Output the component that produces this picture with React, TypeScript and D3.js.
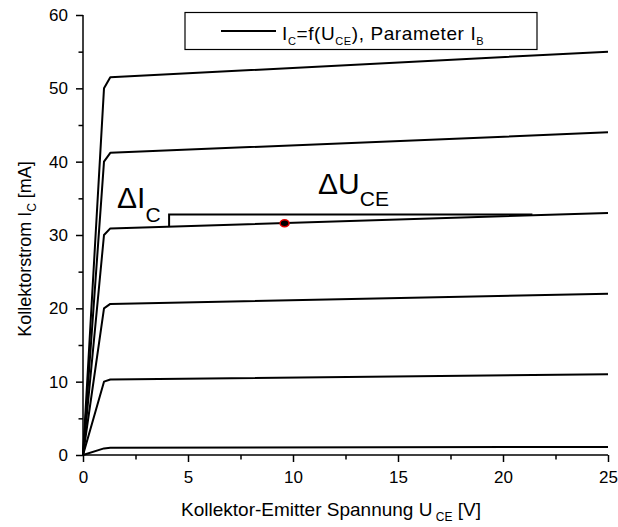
import React, { useEffect, useRef } from 'react';
import * as d3 from 'd3';

// U_CE sample points shared by all curves (V)
const uPoints = [0, 1.0, 1.3, 25];
// I_C values (mA) for each base current step
const icCurves = [
  [0, 0.9, 1.0, 1.1],
  [0, 10, 10.3, 11],
  [0, 20, 20.6, 22],
  [0, 30, 30.9, 33],
  [0, 40, 41.2, 44],
  [0, 50, 51.5, 55],
];
// operating point on the 30 mA curve
const workPoint = [9.6, 31.6];
// delta bracket: U start, U end, I level
const deltaU = [4.1, 21.4];
const deltaLevel = 32.8;

const xMajor = [0, 5, 10, 15, 20, 25];
const xMinor = [2.5, 7.5, 12.5, 17.5, 22.5];
const yMajor = [0, 10, 20, 30, 40, 50, 60];
const yMinor = [5, 15, 25, 35, 45, 55];

const FONT = '"Liberation Sans", Arial, sans-serif';

export default function App() {
  const svgRef = useRef<SVGSVGElement>(null);

  useEffect(() => {
    const svg = d3.select(svgRef.current);
    svg.selectAll('*').remove();

    const width = 618;
    const height = 527;
    const margin = { top: 15, right: 10, bottom: 72, left: 83 };
    const innerW = width - margin.left - margin.right;
    const innerH = height - margin.top - margin.bottom;

    const x = d3.scaleLinear().domain([0, 25]).range([0, innerW]);
    const y = d3.scaleLinear().domain([0, 60]).range([innerH, 0]);

    const g = svg.append('g').attr('transform', `translate(${margin.left},${margin.top})`);

    const line = d3.line<number[]>()
      .x(d => x(d[0]))
      .y(d => y(d[1]));

    // curves
    icCurves.forEach(vals => {
      const pts = uPoints.map((u, i) => [u, vals[i]]);
      g.append('path')
        .datum(pts)
        .attr('d', line)
        .attr('fill', 'none')
        .attr('stroke', '#000')
        .attr('stroke-width', 2)
        .attr('stroke-linejoin', 'round');
    });

    // delta bracket
    const c30 = icCurves[3];
    const onCurve = (u: number) => c30[2] + (c30[3] - c30[2]) * (u - uPoints[2]) / (uPoints[3] - uPoints[2]);
    g.append('path')
      .datum([[deltaU[0], onCurve(deltaU[0])], [deltaU[0], deltaLevel], [deltaU[1], deltaLevel]])
      .attr('d', line)
      .attr('fill', 'none')
      .attr('stroke', '#000')
      .attr('stroke-width', 2);

    // operating point
    g.append('ellipse')
      .attr('cx', x(workPoint[0]))
      .attr('cy', y(workPoint[1]))
      .attr('rx', 4.5)
      .attr('ry', 3.5)
      .attr('fill', '#000')
      .attr('stroke', '#e00000')
      .attr('stroke-width', 1.5);

    // minor ticks (drawn as separate unlabeled axes)
    const xm = g.append('g').attr('transform', `translate(0,${innerH})`)
      .call(d3.axisBottom(x).tickValues(xMinor).tickSize(4.5).tickFormat(() => ''));
    const ym = g.append('g')
      .call(d3.axisLeft(y).tickValues(yMinor).tickSize(4.5).tickFormat(() => ''));
    [xm, ym].forEach(a => {
      a.select('.domain').remove();
      a.selectAll('.tick line').attr('stroke-width', 1.5);
    });

    // major axes
    const xa = g.append('g').attr('transform', `translate(0,${innerH})`);
    xa.call(d3.axisBottom(x).tickValues(xMajor).tickSize(7).tickPadding(9).tickFormat(d3.format('d')));
    const ya = g.append('g');
    ya.call(d3.axisLeft(y).tickValues(yMajor).tickSize(7).tickPadding(8).tickFormat(d3.format('d')));

    [xa, ya].forEach(a => {
      a.select('.domain').attr('stroke-width', 1.5).attr('d',
        a === xa ? `M0,0H${innerW}` : `M0,0V${innerH}`);
      a.selectAll('.tick line').attr('stroke-width', 1.5);
      a.selectAll('.tick text').attr('font-size', 17).attr('font-family', FONT).attr('fill', '#000');
    });

    // axis titles
    const xt = svg.append('text')
      .attr('x', 331)
      .attr('y', 516)
      .attr('text-anchor', 'middle')
      .attr('font-family', FONT)
      .attr('font-size', 19);
    xt.append('tspan').text('Kollektor-Emitter Spannung U');
    xt.append('tspan').attr('dy', 5).attr('font-size', 12).text(' CE');
    xt.append('tspan').attr('dy', -5).text(' [V]');

    const yt = svg.append('text')
      .attr('transform', `translate(31,249) rotate(-90)`)
      .attr('text-anchor', 'middle')
      .attr('font-family', FONT)
      .attr('font-size', 18);
    yt.append('tspan').text('Kollektorstrom I');
    yt.append('tspan').attr('dy', 5).attr('font-size', 12).text('C');
    yt.append('tspan').attr('dy', -5).text(' [mA]');

    // delta labels
    const dI = svg.append('text')
      .attr('x', 117).attr('y', 208)
      .attr('font-family', FONT).attr('font-size', 30);
    dI.append('tspan').text('\u0394I');
    dI.append('tspan').attr('dy', 14).attr('font-size', 21).text('C');

    const dU = svg.append('text')
      .attr('x', 318).attr('y', 194)
      .attr('font-family', FONT).attr('font-size', 30);
    dU.append('tspan').text('\u0394U');
    dU.append('tspan').attr('dy', 12).attr('font-size', 21).text('CE');

    // legend
    const lg = svg.append('g');
    lg.append('rect')
      .attr('x', 185).attr('y', 12.5).attr('width', 352).attr('height', 37)
      .attr('fill', '#fff').attr('stroke', '#000').attr('stroke-width', 1.2);
    lg.append('line')
      .attr('x1', 221).attr('x2', 276).attr('y1', 31).attr('y2', 31)
      .attr('stroke', '#000').attr('stroke-width', 2);
    const lt = lg.append('text')
      .attr('x', 282).attr('y', 40)
      .attr('font-family', FONT).attr('font-size', 19)
      .attr('letter-spacing', 0.6);
    lt.append('tspan').text('I');
    lt.append('tspan').attr('dy', 5).attr('font-size', 11).text('C');
    lt.append('tspan').attr('dy', -5).text('=f(U');
    lt.append('tspan').attr('dy', 5).attr('font-size', 11).text('CE');
    lt.append('tspan').attr('dy', -5).text('), Parameter I');
    lt.append('tspan').attr('dy', 5).attr('font-size', 11).text('B');
  }, []);

  return (
    <div style={{ position: 'absolute', left: 0, top: 0 }}>
      <svg ref={svgRef} width={618} height={527} style={{ display: 'block', background: '#fff' }} />
    </div>
  );
}
